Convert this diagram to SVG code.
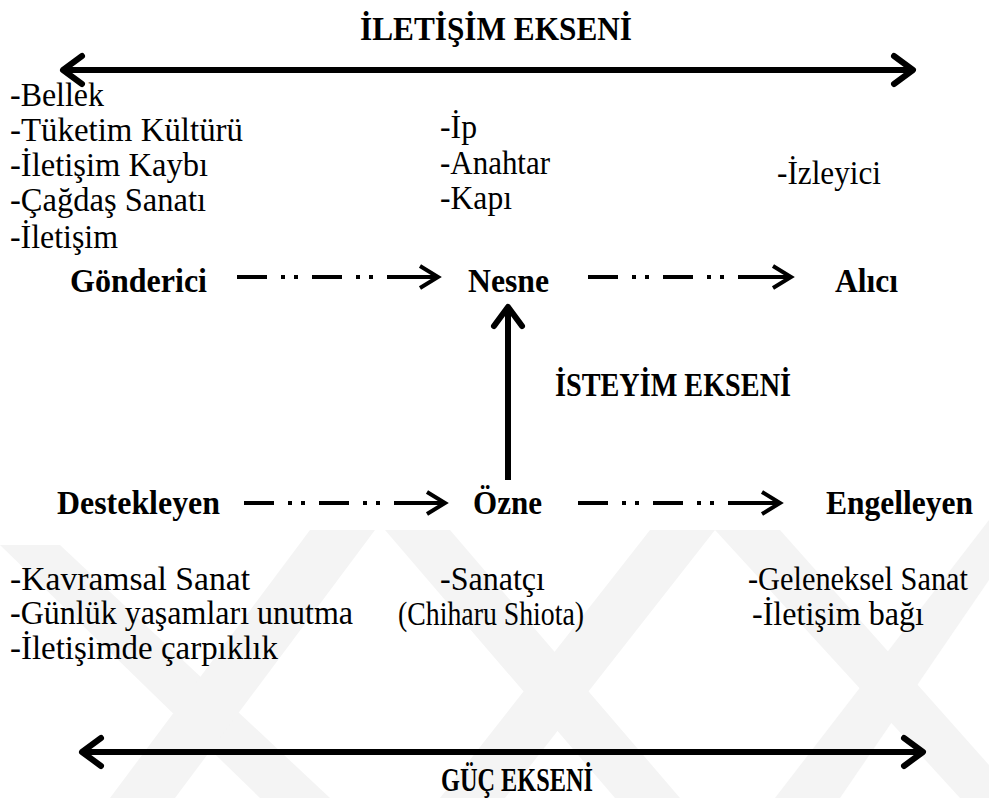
<svg xmlns="http://www.w3.org/2000/svg" width="989" height="798" viewBox="0 0 989 798">
  <style>
    text { font-family: "Liberation Serif", "Tinos", "Times New Roman", serif; fill: #000; }
    .b { font-weight: bold; font-size: 34px; }
    .r { font-weight: normal; font-size: 34px; }
    .axis { font-weight: bold; }
    .dash { fill: none; stroke: #000; stroke-width: 4; stroke-dasharray: 30 14 4 9 4 14; }
    .solid { fill: none; stroke: #000; stroke-width: 4; }
    .big { fill: none; stroke: #000; stroke-width: 6; }
    .wm { fill: #f4f4f4; }
  </style>
  <defs>
    <marker id="chev" viewBox="-22 -14 27 28" refX="0" refY="0" markerWidth="27" markerHeight="28" markerUnits="userSpaceOnUse" orient="auto-start-reverse">
      <path d="M-18,-11 L0,0 L-18,11" fill="none" stroke="#000" stroke-width="4"/>
    </marker>
    <marker id="bigchev" viewBox="-26 -18 30 36" refX="0" refY="0" markerWidth="30" markerHeight="36" markerUnits="userSpaceOnUse" orient="auto-start-reverse">
      <path d="M-19,-14 L0,0 L-19,14" fill="none" stroke="#000" stroke-width="6" stroke-linecap="round" stroke-linejoin="round"/>
    </marker>
  </defs>
  <rect width="989" height="798" fill="#fff"/>

  <!-- watermark -->
  <g id="watermark">
    <polygon class="wm" points="0,545 60,545 330,798 260,798"/>
    <polygon class="wm" points="310,530 375,530 175,798 110,798"/>
    <polygon class="wm" points="385,530 450,530 680,798 615,798"/>
    <polygon class="wm" points="650,530 715,530 505,798 440,798"/>
    <polygon class="wm" points="715,530 780,530 989,765 989,798 960,798"/>
    <polygon class="wm" points="989,520 989,580 840,798 775,798"/>
  </g>

  <g id="connectors">
    <line class="big" x1="63" y1="70" x2="913" y2="70" marker-start="url(#bigchev)" marker-end="url(#bigchev)"/>
    <line class="big" x1="82" y1="752" x2="923" y2="752" marker-start="url(#bigchev)" marker-end="url(#bigchev)"/>
    <line class="big" x1="508" y1="480" x2="508" y2="307" marker-end="url(#bigchev)"/>

    <path class="dash" d="M237,277 H387"/>
    <path class="solid" d="M387,277 H438" marker-end="url(#chev)"/>
    <path class="dash" d="M588,277 H738"/>
    <path class="solid" d="M738,277 H791" marker-end="url(#chev)"/>

    <path class="dash" d="M244,503 H394"/>
    <path class="solid" d="M394,503 H445" marker-end="url(#chev)"/>
    <path class="dash" d="M578,503 H728"/>
    <path class="solid" d="M728,503 H780" marker-end="url(#chev)"/>
  </g>

  <g id="axis-iletisim">
    <text class="axis" x="496" y="40" font-size="34" text-anchor="middle" textLength="272" lengthAdjust="spacingAndGlyphs">İLETİŞİM EKSENİ</text>
  </g>
  <g id="axis-isteyim">
    <text class="axis" x="555" y="396" font-size="33" textLength="236" lengthAdjust="spacingAndGlyphs">İSTEYİM EKSENİ</text>
  </g>
  <g id="axis-guc">
    <text class="axis" x="441" y="791" font-size="33" textLength="152" lengthAdjust="spacingAndGlyphs">GÜÇ EKSENİ</text>
  </g>

  <g id="gonderici">
    <text class="b" x="70" y="292" textLength="137" lengthAdjust="spacingAndGlyphs">Gönderici</text>
    <text class="r" x="10" y="106" textLength="94" lengthAdjust="spacingAndGlyphs">-Bellek</text>
    <text class="r" x="10" y="141" textLength="233" lengthAdjust="spacingAndGlyphs">-Tüketim Kültürü</text>
    <text class="r" x="10" y="176" textLength="198" lengthAdjust="spacingAndGlyphs">-İletişim Kaybı</text>
    <text class="r" x="10" y="211" textLength="196" lengthAdjust="spacingAndGlyphs">-Çağdaş Sanatı</text>
    <text class="r" x="10" y="248" textLength="108" lengthAdjust="spacingAndGlyphs">-İletişim</text>
  </g>

  <g id="nesne">
    <text class="b" x="468" y="292" textLength="81" lengthAdjust="spacingAndGlyphs">Nesne</text>
    <text class="r" x="440" y="138" textLength="37" lengthAdjust="spacingAndGlyphs">-İp</text>
    <text class="r" x="440" y="174" textLength="110" lengthAdjust="spacingAndGlyphs">-Anahtar</text>
    <text class="r" x="440" y="209" textLength="72" lengthAdjust="spacingAndGlyphs">-Kapı</text>
  </g>

  <g id="alici">
    <text class="b" x="835" y="292" textLength="63" lengthAdjust="spacingAndGlyphs">Alıcı</text>
    <text class="r" x="777" y="184" textLength="104" lengthAdjust="spacingAndGlyphs">-İzleyici</text>
  </g>

  <g id="destekleyen">
    <text class="b" x="57" y="514" textLength="163" lengthAdjust="spacingAndGlyphs">Destekleyen</text>
    <text class="r" x="10" y="590" textLength="240" lengthAdjust="spacingAndGlyphs">-Kavramsal Sanat</text>
    <text class="r" x="10" y="624" textLength="343" lengthAdjust="spacingAndGlyphs">-Günlük yaşamları unutma</text>
    <text class="r" x="10" y="659" textLength="268" lengthAdjust="spacingAndGlyphs">-İletişimde çarpıklık</text>
  </g>

  <g id="ozne">
    <text class="b" x="473" y="514" textLength="69" lengthAdjust="spacingAndGlyphs">Özne</text>
    <text class="r" x="440" y="590" textLength="105" lengthAdjust="spacingAndGlyphs">-Sanatçı</text>
    <text class="r" x="398" y="625" textLength="186" lengthAdjust="spacingAndGlyphs">(Chiharu Shiota)</text>
  </g>

  <g id="engelleyen">
    <text class="b" x="826" y="514" textLength="147" lengthAdjust="spacingAndGlyphs">Engelleyen</text>
    <text class="r" x="748" y="590" font-size="31" textLength="220" lengthAdjust="spacingAndGlyphs">-Geleneksel Sanat</text>
    <text class="r" x="752" y="625" textLength="172" lengthAdjust="spacingAndGlyphs">-İletişim bağı</text>
  </g>
</svg>
